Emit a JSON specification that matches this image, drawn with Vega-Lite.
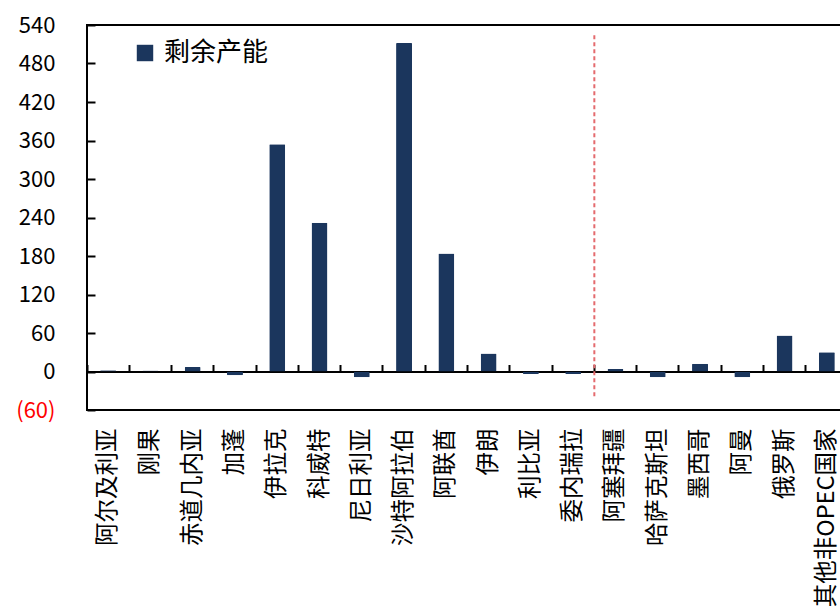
{
  "$schema": "https://vega.github.io/schema/vega-lite/v6.json",
  "width": 761,
  "height": 385,
  "autosize": {"type": "none"},
  "padding": {"left": 87, "top": 25, "right": 0, "bottom": 201},
  "background": "white",
  "config": {"view": {"stroke": "black", "strokeWidth": 2}, "font": "Noto Sans CJK SC"},
  "data": {"values": [
    {"c": "阿尔及利亚", "v": 2},
    {"c": "刚果", "v": 1.5},
    {"c": "赤道几内亚", "v": 7},
    {"c": "加蓬", "v": -6},
    {"c": "伊拉克", "v": 354},
    {"c": "科威特", "v": 232},
    {"c": "尼日利亚", "v": -9},
    {"c": "沙特阿拉伯", "v": 512},
    {"c": "阿联酋", "v": 184},
    {"c": "伊朗", "v": 28},
    {"c": "利比亚", "v": -4},
    {"c": "委内瑞拉", "v": -4},
    {"c": "阿塞拜疆", "v": 4},
    {"c": "哈萨克斯坦", "v": -9},
    {"c": "墨西哥", "v": 12},
    {"c": "阿曼", "v": -9},
    {"c": "俄罗斯", "v": 56},
    {"c": "其他非OPEC国家", "v": 30}
  ]},
  "layer": [
    {
      "mark": {"type": "bar", "size": 16, "cornerRadius": 1},
      "encoding": {
        "x": {"field": "c", "type": "nominal", "sort": null,
          "scale": {"paddingInner": 0, "paddingOuter": 0},
          "axis": {"orient": "top", "offset": -346.5, "labels": false, "title": null,
            "domainColor": "black", "domainWidth": 2, "tickColor": "black", "tickWidth": 2,
            "tickSize": 7, "bandPosition": 0}},
        "y": {"field": "v", "type": "quantitative",
          "scale": {"domain": [-60, 540], "nice": false, "zero": false},
          "axis": null},
        "color": {"datum": "剩余产能", "type": "nominal",
          "scale": {"range": ["#1b365d"]},
          "legend": {"title": null, "orient": "none", "legendX": 45, "legendY": 15,
            "symbolType": "square", "symbolSize": 270, "symbolStrokeWidth": 0,
            "labelFontSize": 26, "labelOffset": 6, "labelColor": "black"}}
      }
    },
    {
      "transform": [{"filter": "datum.c === '阿塞拜疆'"}],
      "mark": {"type": "rule", "color": "#e46a6e", "strokeDash": [4, 3], "strokeWidth": 2},
      "encoding": {
        "x": {"field": "c", "type": "nominal", "sort": null, "bandPosition": 0,
          "axis": {"orient": "bottom", "domain": false, "ticks": false, "labelAngle": -90,
            "labelPadding": 18, "labelFontSize": 23.5, "labelColor": "black", "title": null}},
        "y": {"datum": 524, "type": "quantitative",
          "axis": {"orient": "left", "offset": -8, "values": [-60, 0, 60, 120, 180, 240, 300, 360, 420, 480, 540],
            "title": null, "grid": false, "domain": false, "ticks": true, "tickSize": 8,
            "tickColor": "black", "tickWidth": 2, "labelPadding": 32,
            "labelFontSize": 22, "labelOverlap": false,
            "labelColor": {"condition": {"test": "datum.value < 0", "value": "#ff0000"}, "value": "black"},
            "labelExpr": "datum.value < 0 ? '(' + abs(datum.value) + ')' : datum.label"}},
        "y2": {"datum": -42}
      }
    }
  ],
  "resolve": {"axis": {"x": "independent", "y": "independent"}}
}
